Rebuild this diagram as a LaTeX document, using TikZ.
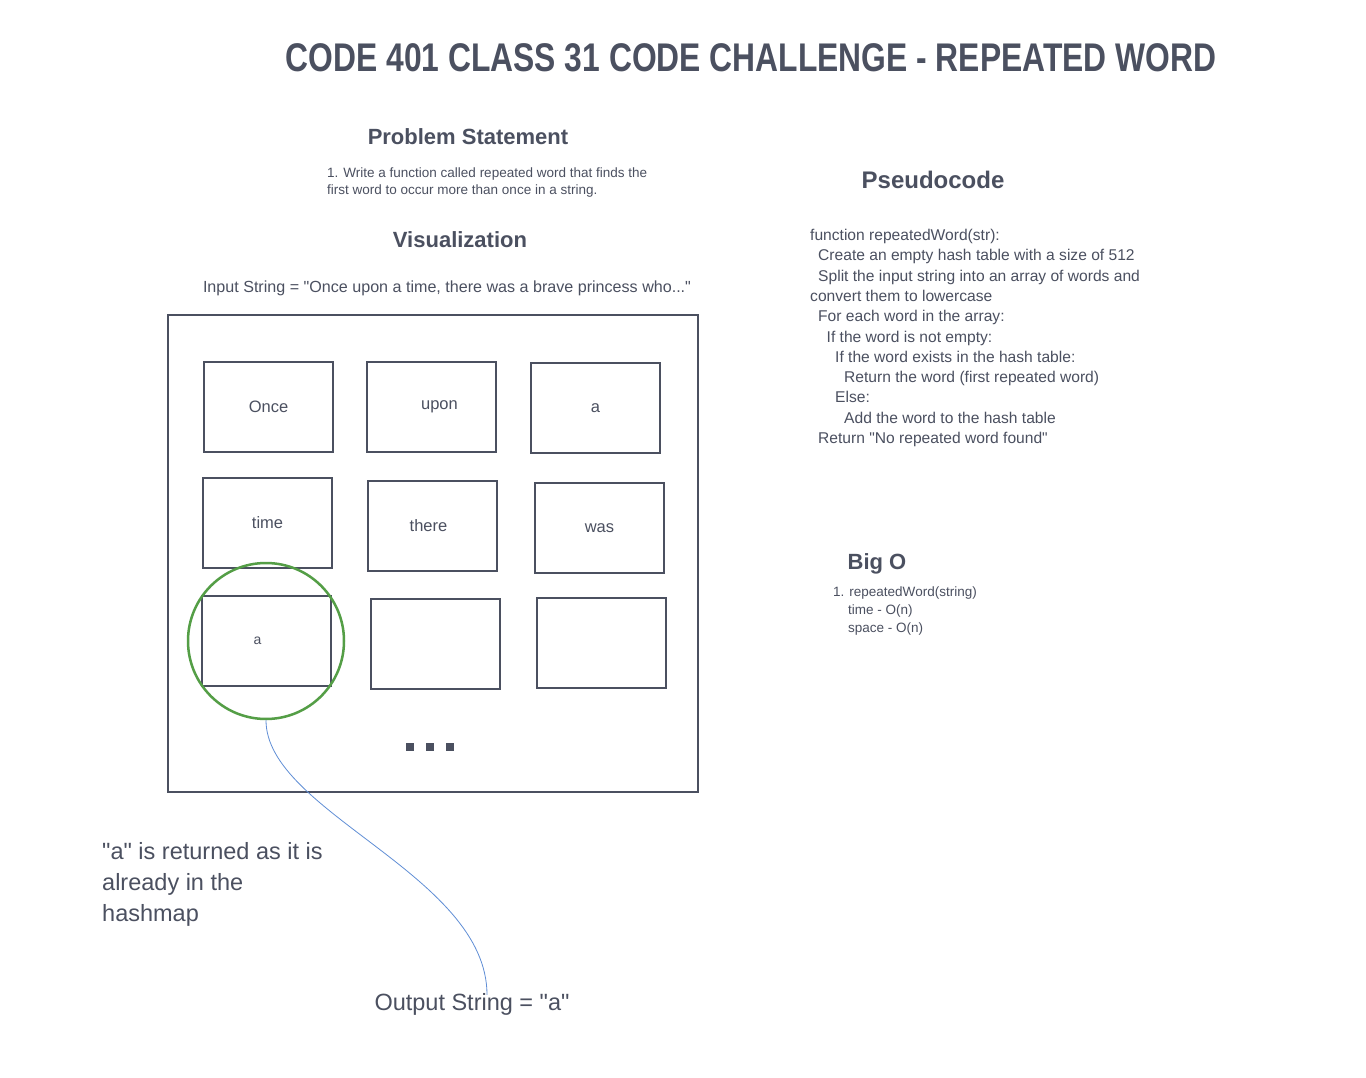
\documentclass[tikz,border=0pt]{standalone}
\usepackage{fontspec}
\setmainfont{Liberation Sans}[Ligatures=TeXOff]
\newfontfamily\titlefont{Liberation Sans}[FakeStretch=0.795,Ligatures=TeXOff]
\usetikzlibrary{positioning}
\definecolor{ink}{RGB}{75,80,96}
\definecolor{hitgreen}{RGB}{84,158,70}
\definecolor{wireblue}{RGB}{96,142,214}
\tikzset{heading/.style={text=ink,font=\fontsize{22}{26}\selectfont\bfseries,inner sep=0pt,anchor=base}}
\tikzset{small/.style={text=ink,font=\fontsize{13.5}{16}\selectfont,inner sep=0pt,anchor=base west}}
\tikzset{code/.style={text=ink,font=\fontsize{15.6}{18}\selectfont,inner sep=0pt,anchor=base west}}
\tikzset{note/.style={text=ink,font=\fontsize{23.5}{28}\selectfont,inner sep=0pt,anchor=base west}}
\tikzset{cell/.style={draw=ink,line width=2.5pt,minimum width=129pt,minimum height=90pt,inner sep=0pt,text=ink,font=\fontsize{16.5}{20}\selectfont}}
\tikzset{frame/.style={draw=ink,line width=2.5pt,minimum width=530pt,minimum height=477pt,inner sep=0pt}}

\begin{document}
\begin{tikzpicture}[x=1pt,y=-1pt]
    \useasboundingbox[fill=white] (0,0) rectangle (1366,1078);
    \node[text=ink,font=\titlefont\fontsize{40}{44}\selectfont\bfseries,inner sep=0pt,anchor=base] (title) at (751,72) {CODE 401 CLASS 31 CODE CHALLENGE - REPEATED WORD};
    % problem statement
    \node[heading] (probhead) at (468,145) {Problem Statement};
    \node[small] (prob1) at (327,177.5) {1. Write a function called repeated word that finds the};
    \node[small] (prob2) at (327,194.5) {first word to occur more than once in a string.};
    % visualization
    \node[heading] (vishead) at (460,248) {Visualization};
    \node[code,anchor=base,font=\fontsize{16.1}{19}\selectfont] (input) at (447,292) {Input String = "Once upon a time, there was a brave princess who..."};
    \node[frame] (board) at (433,553.5) {};
    \node[cell] (c11) at (268.5,407) {Once};
    \node[cell] (c12) at (431.5,407) {\hspace*{16pt}upon};
    \node[cell] (c13) at (595.5,408) {a};
    \node[cell] (c21) at (267.5,523) {time};
    \node[cell] (c22) at (432.5,526) {there\hspace*{8pt}};
    \node[cell] (c23) at (599.5,528) {was};
    \node[cell,font=\fontsize{14}{16}\selectfont] (c31) at (266.5,641) {a\hspace*{18pt}};
    \node[cell] (c32) at (435.5,644) {};
    \node[cell] (c33) at (601.5,643) {};
    \foreach \dx in {410,430,450}
        \fill[ink] (\dx-4,743) rectangle +(8,8);
    \node[draw=hitgreen,line width=2.5pt,circle,minimum size=156pt,inner sep=0pt] (hit) at (266,641) {};
    % result
    \node[note] (why1) at (102,859) {"a" is returned as it is};
    \node[note] (why2) at (102,890) {already in the};
    \node[note] (why3) at (102,921) {hashmap};
    \node[note,anchor=base] (output) at (472,1010) {Output String = "a"};
    \draw[wireblue,line width=0.8pt] (hit.south) .. controls +(0,92) and +(0,-120) .. ([xshift=15pt,yshift=-2pt]output.north);
    % pseudocode
    \node[heading,font=\fontsize{24}{28}\selectfont\bfseries] (pseudohead) at (933,189) {Pseudocode};
    \foreach \ind/\txt [count=\i] in {0/function repeatedWord(str):,
        8/Create an empty hash table with a size of 512,
        8/Split the input string into an array of words and,
        0/convert them to lowercase,
        8/For each word in the array:,
        16.5/If the word is not empty:,
        25/If the word exists in the hash table:,
        34/Return the word (first repeated word),
        25/Else:,
        34/Add the word to the hash table,
        8/Return "No repeated word found"}
        \node[code] (code\i) at (810+\ind,240.5+20.3*\i-20.3) {\txt};
    % complexity
    \node[heading] (bighead) at (877,569) {Big O};
    \node[small] (big1) at (833,596.5) {1. repeatedWord(string)};
    \node[small] (big2) at (848,614.5) {time - O(n)};
    \node[small] (big3) at (848,632.5) {space - O(n)};
\end{tikzpicture}
\end{document}
